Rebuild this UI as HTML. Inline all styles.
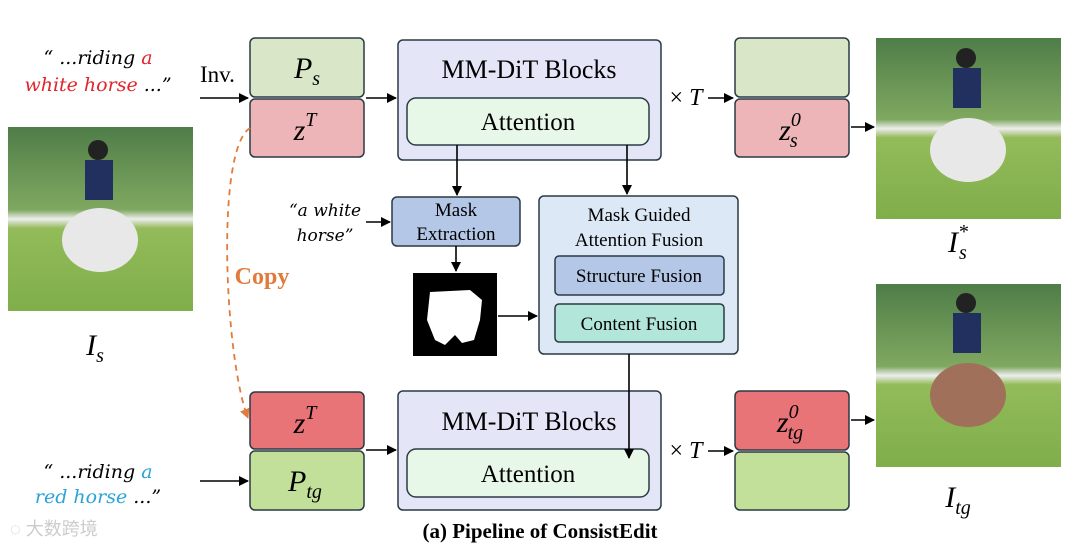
<!DOCTYPE html>
<html><head><meta charset="utf-8"><style>body{margin:0;background:#fff}svg{display:block}</style></head><body>
<svg width="1080" height="547" viewBox="0 0 1080 547" xmlns="http://www.w3.org/2000/svg" font-family="Liberation Serif, serif">
<defs>
<marker id="a" markerWidth="10" markerHeight="10" refX="9" refY="5" orient="auto" markerUnits="userSpaceOnUse"><path d="M0,0 L10,5 L0,10 z" fill="#000"/></marker>
<marker id="o" markerWidth="10" markerHeight="10" refX="9" refY="5" orient="auto" markerUnits="userSpaceOnUse"><path d="M0,0 L10,5 L0,10 z" fill="#e07b3c"/></marker>
<linearGradient id="g" x1="0" y1="0" x2="0" y2="1"><stop offset="0" stop-color="#4f7d48"/><stop offset="0.45" stop-color="#7fa860"/><stop offset="0.5" stop-color="#eee"/><stop offset="0.55" stop-color="#93bb5a"/><stop offset="1" stop-color="#7fae4a"/></linearGradient>
</defs>
<text x="98" y="64" font-size="19" font-style="italic" text-anchor="middle" font-family="DejaVu Serif, serif">“ ...riding <tspan fill="#e0242a">a</tspan></text>
<text x="98" y="91" font-size="19" font-style="italic" text-anchor="middle" font-family="DejaVu Serif, serif"><tspan fill="#e0242a">white horse</tspan> ...”</text>
<text x="200" y="82" font-size="23">Inv.</text>
<line x1="200" y1="98" x2="248" y2="98" stroke="#000" stroke-width="1.6" marker-end="url(#a)"/>
<rect x="250" y="38" width="114" height="59" rx="5" fill="#d9e6c8" stroke="#2a3a44" stroke-width="1.5"/>
<rect x="250" y="99" width="114" height="58" rx="5" fill="#eeb5b8" stroke="#2a3a44" stroke-width="1.5"/>
<text x="307" y="78" font-size="30" font-style="italic" text-anchor="middle">P<tspan font-size="20" dy="7">s</tspan></text>
<text x="305" y="140" font-size="30" font-style="italic" text-anchor="middle">z<tspan font-size="20" dy="-14">T</tspan></text>
<line x1="366" y1="98" x2="396" y2="98" stroke="#000" stroke-width="1.6" marker-end="url(#a)"/>
<rect x="398" y="40" width="263" height="120" rx="5" fill="#e5e5f8" stroke="#2a3a44" stroke-width="1.5"/>
<text x="529" y="78" font-size="26" text-anchor="middle">MM-DiT Blocks</text>
<rect x="407" y="98" width="242" height="47" rx="9" fill="#e8f8e8" stroke="#2a3a44" stroke-width="1.5"/>
<text x="528" y="130" font-size="25" text-anchor="middle">Attention</text>
<text x="686" y="105" font-size="24" text-anchor="middle">× <tspan font-style="italic">T</tspan></text>
<line x1="708" y1="98" x2="733" y2="98" stroke="#000" stroke-width="1.6" marker-end="url(#a)"/>
<rect x="735" y="38" width="114" height="59" rx="5" fill="#d9e6c8" stroke="#2a3a44" stroke-width="1.5"/>
<rect x="735" y="99" width="114" height="58" rx="5" fill="#eeb5b8" stroke="#2a3a44" stroke-width="1.5"/>
<text x="790" y="140" font-size="30" font-style="italic" text-anchor="middle">z<tspan font-size="20" dy="-14">0</tspan><tspan font-size="20" dx="-11" dy="21">s</tspan></text>
<line x1="851" y1="127" x2="874" y2="127" stroke="#000" stroke-width="1.6" marker-end="url(#a)"/>
<rect x="8" y="127" width="185" height="184" fill="url(#g)"/>
<rect x="876" y="38" width="185" height="181" fill="url(#g)"/>
<rect x="876" y="284" width="185" height="183" fill="url(#g)"/>
<ellipse cx="100" cy="240" rx="38" ry="32" fill="#e8e8e8"/>
<circle cx="98" cy="150" r="10" fill="#222"/><rect x="85" y="160" width="28" height="40" fill="#223060"/>
<ellipse cx="968" cy="150" rx="38" ry="32" fill="#e8e8e8"/>
<circle cx="966" cy="58" r="10" fill="#222"/><rect x="953" y="68" width="28" height="40" fill="#223060"/>
<ellipse cx="968" cy="395" rx="38" ry="32" fill="#a0705a"/>
<circle cx="966" cy="303" r="10" fill="#222"/><rect x="953" y="313" width="28" height="40" fill="#223060"/>
<text x="95" y="355" font-size="30" font-style="italic" text-anchor="middle">I<tspan font-size="20" dy="7">s</tspan></text>
<text x="958" y="252" font-size="30" font-style="italic" text-anchor="middle">I<tspan font-size="20" dy="-14">*</tspan><tspan font-size="20" dx="-9" dy="21">s</tspan></text>
<text x="958" y="507" font-size="30" font-style="italic" text-anchor="middle">I<tspan font-size="20" dy="7">tg</tspan></text>
<path d="M250,128 C215,150 225,360 248,418" fill="none" stroke="#e07b3c" stroke-width="1.8" stroke-dasharray="6,5" marker-end="url(#o)"/>
<text x="262" y="284" font-size="24" font-weight="bold" fill="#e07b3c" text-anchor="middle">Copy</text>
<line x1="457" y1="145" x2="457" y2="195" stroke="#000" stroke-width="1.6" marker-end="url(#a)"/>
<line x1="627" y1="145" x2="627" y2="194" stroke="#000" stroke-width="1.6" marker-end="url(#a)"/>
<text x="325" y="216" font-size="17" font-style="italic" text-anchor="middle" font-family="DejaVu Serif, serif">“a white</text>
<text x="325" y="241" font-size="17" font-style="italic" text-anchor="middle" font-family="DejaVu Serif, serif">horse”</text>
<line x1="366" y1="222" x2="390" y2="222" stroke="#000" stroke-width="1.6" marker-end="url(#a)"/>
<rect x="392" y="197" width="128" height="49" rx="5" fill="#b4c7e7" stroke="#2a3a44" stroke-width="1.5"/>
<text x="456" y="216" font-size="19" text-anchor="middle">Mask</text>
<text x="456" y="240" font-size="19" text-anchor="middle">Extraction</text>
<line x1="456" y1="246" x2="456" y2="271" stroke="#000" stroke-width="1.6" marker-end="url(#a)"/>
<rect x="413" y="273" width="84" height="83" fill="#000"/>
<path d="M430,292 L470,290 L482,300 L480,320 L474,340 L462,343 L455,335 L445,345 L435,340 L427,320 Z" fill="#fff"/>
<line x1="498" y1="316" x2="537" y2="316" stroke="#000" stroke-width="1.6" marker-end="url(#a)"/>
<rect x="539" y="196" width="199" height="158" rx="5" fill="#dde8f6" stroke="#2a3a44" stroke-width="1.5"/>
<text x="639" y="221" font-size="19" text-anchor="middle">Mask Guided</text>
<text x="639" y="246" font-size="19" text-anchor="middle">Attention Fusion</text>
<rect x="555" y="256" width="169" height="39" rx="4" fill="#b4c7e7" stroke="#2a3a44" stroke-width="1.5"/>
<text x="639" y="282" font-size="19" text-anchor="middle">Structure Fusion</text>
<rect x="555" y="304" width="169" height="38" rx="4" fill="#b3e6da" stroke="#2a3a44" stroke-width="1.5"/>
<text x="639" y="330" font-size="19" text-anchor="middle">Content Fusion</text>
<text x="98" y="478" font-size="19" font-style="italic" text-anchor="middle" font-family="DejaVu Serif, serif">“ ...riding <tspan fill="#2aa3d8">a</tspan></text>
<text x="98" y="503" font-size="19" font-style="italic" text-anchor="middle" font-family="DejaVu Serif, serif"><tspan fill="#2aa3d8">red horse</tspan> ...”</text>
<line x1="200" y1="481" x2="248" y2="481" stroke="#000" stroke-width="1.6" marker-end="url(#a)"/>
<rect x="250" y="392" width="114" height="57" rx="5" fill="#e87478" stroke="#2a3a44" stroke-width="1.5"/>
<rect x="250" y="451" width="114" height="59" rx="5" fill="#c3e09a" stroke="#2a3a44" stroke-width="1.5"/>
<text x="305" y="433" font-size="30" font-style="italic" text-anchor="middle">z<tspan font-size="20" dy="-14">T</tspan></text>
<text x="305" y="491" font-size="30" font-style="italic" text-anchor="middle">P<tspan font-size="20" dy="7">tg</tspan></text>
<line x1="366" y1="450" x2="396" y2="450" stroke="#000" stroke-width="1.6" marker-end="url(#a)"/>
<rect x="398" y="391" width="263" height="119" rx="5" fill="#e5e5f8" stroke="#2a3a44" stroke-width="1.5"/>
<text x="529" y="430" font-size="26" text-anchor="middle">MM-DiT Blocks</text>
<rect x="407" y="449" width="242" height="48" rx="9" fill="#e8f8e8" stroke="#2a3a44" stroke-width="1.5"/>
<text x="528" y="482" font-size="25" text-anchor="middle">Attention</text>
<line x1="629" y1="354" x2="629" y2="458" stroke="#000" stroke-width="1.6" marker-end="url(#a)"/>
<text x="686" y="458" font-size="24" text-anchor="middle">× <tspan font-style="italic">T</tspan></text>
<line x1="708" y1="451" x2="733" y2="451" stroke="#000" stroke-width="1.6" marker-end="url(#a)"/>
<rect x="735" y="391" width="114" height="59" rx="5" fill="#e87478" stroke="#2a3a44" stroke-width="1.5"/>
<rect x="735" y="452" width="114" height="58" rx="5" fill="#c3e09a" stroke="#2a3a44" stroke-width="1.5"/>
<text x="790" y="432" font-size="30" font-style="italic" text-anchor="middle">z<tspan font-size="20" dy="-14">0</tspan><tspan font-size="20" dx="-11" dy="21">tg</tspan></text>
<line x1="851" y1="420" x2="874" y2="420" stroke="#000" stroke-width="1.6" marker-end="url(#a)"/>
<text x="540" y="538" font-size="21" font-weight="bold" text-anchor="middle">(a) Pipeline of ConsistEdit</text>
<text x="10" y="535" font-size="18" fill="#ccc" font-family="Liberation Sans, Noto Sans CJK SC, sans-serif">◌ 大数跨境</text>
</svg>
</body></html>
